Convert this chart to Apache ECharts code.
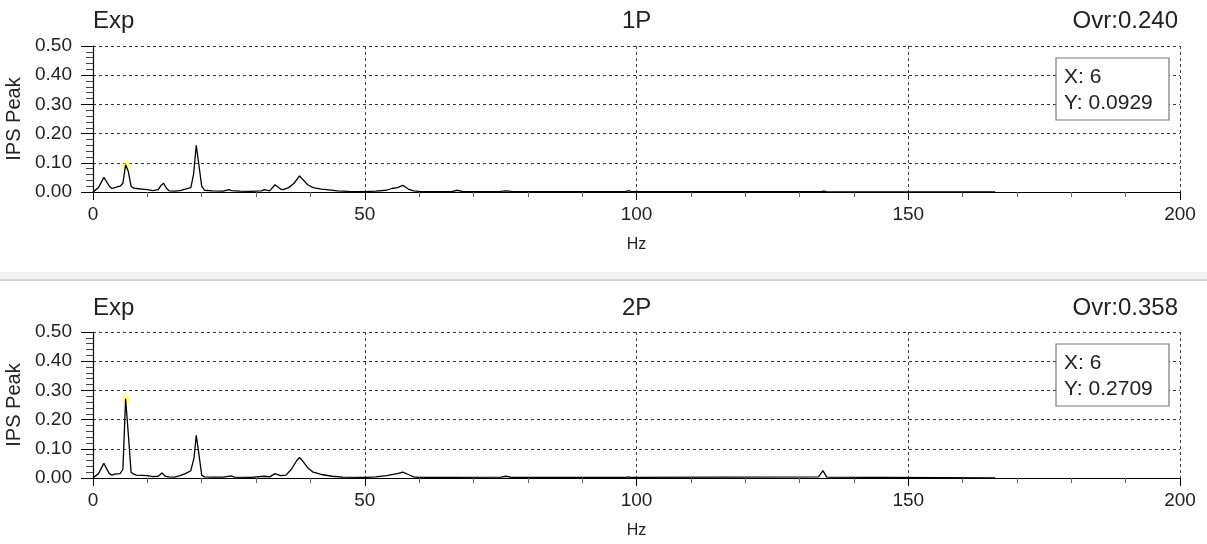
<!DOCTYPE html>
<html>
<head>
<meta charset="utf-8">
<script src="https://cdn.jsdelivr.net/npm/echarts@6/dist/echarts.min.js"></script>
<style>html,body{margin:0;padding:0;background:#fff}#c{width:1207px;height:544px}</style>
</head>
<body>
<div id="c"></div>
<script>
// ---- data ----
const panelNames = ['1P', '2P'];
const leftTitles = ['Exp', 'Exp'];
const overallTexts = ['Ovr:0.240', 'Ovr:0.358'];
const cursorX = [6, 6];
const cursorY = [0.0929, 0.2709];
const xTicks = [0, 50, 100, 150, 200];
const yTicks = [0, 0.1, 0.2, 0.3, 0.4, 0.5];

const freq1P = [0,1,2,2.5,3,3.5,4,4.5,5,5.5,6,6.5,7,7.5,8,9,10,11,12,12.5,13,13.5,14,15,16,17,18,18.5,19,19.5,20,20.5,22,24,25,25.5,27,29,31,31.5,32.5,33.5,34.5,35,36,37,38,38.5,39.5,40.5,42,43,45,47,50,52,54,55,56,57,58,59,60,66,67,68,75,76,77,98,98.5,99,134,134.5,135,166];
const amp1P  = [0,0.015,0.05,0.035,0.02,0.012,0.015,0.018,0.02,0.03,0.093,0.07,0.02,0.013,0.012,0.01,0.008,0.005,0.008,0.022,0.03,0.013,0.004,0.003,0.005,0.01,0.015,0.06,0.16,0.09,0.02,0.006,0.004,0.003,0.008,0.005,0.003,0.002,0.004,0.008,0.004,0.025,0.01,0.008,0.015,0.03,0.055,0.045,0.025,0.015,0.01,0.008,0.004,0.002,0.001,0.003,0.006,0.012,0.015,0.023,0.01,0.004,0.002,0.001,0.006,0.001,0.002,0.004,0.002,0.001,0.005,0.001,0.001,0.003,0.001,0];

const freq2P = [0,1,2,2.5,3,3.5,4,5,5.5,6,6.5,7,7.5,8,10,11,12,12.7,13.3,14,15,16,17,18,18.6,19,19.5,20,20.5,22,24,25.4,26,29,31.5,32.5,33.5,34.5,35.5,36.5,37.5,38,38.5,39.5,40.5,42,44,46,50,52,54,56,57,58,59,60,66,75,76,77,98,98.5,99,133.5,134.3,135,166];
const amp2P  = [0,0.015,0.05,0.032,0.015,0.01,0.013,0.015,0.03,0.271,0.15,0.02,0.013,0.01,0.008,0.005,0.006,0.017,0.006,0.004,0.003,0.008,0.015,0.025,0.07,0.146,0.08,0.01,0.004,0.003,0.003,0.007,0.003,0.002,0.006,0.004,0.015,0.008,0.01,0.03,0.06,0.07,0.06,0.035,0.02,0.012,0.006,0.003,0.002,0.004,0.008,0.015,0.02,0.012,0.004,0.002,0.002,0.003,0.006,0.002,0.002,0.004,0.002,0.004,0.025,0.003,0];

const freqs = [freq1P, freq2P];
const amps = [amp1P, amp2P];

// ---- layout ----
const gridTops = [46, 332];
const gridH = 146;
const gridLeft = 93, gridRight = 27;
const FONT = '"Liberation Sans", Arial, sans-serif';

const chart = echarts.init(document.getElementById('c'));

const grids = [], xAxes = [], yAxes = [], series = [], titles = [], graphics = [];

for (let i = 0; i < 2; i++) {
  const top = gridTops[i];
  grids.push({left: gridLeft, right: gridRight, top: top, height: gridH, containLabel: false, outerBoundsMode: 'none'});
  xAxes.push({
    type: 'value', gridIndex: i, min: xTicks[0], max: xTicks[xTicks.length-1], interval: 50,
    name: 'Hz', nameLocation: 'middle', nameGap: 45,
    nameTextStyle: {fontFamily: FONT, fontSize: 16, color: '#222'},
    axisLine: {show: true, onZero: false, lineStyle: {color: '#000', width: 1.2}},
    axisTick: {show: true, length: 8, lineStyle: {color: '#000'}},
    minorTick: {show: true, splitNumber: 5, length: 5, lineStyle: {color: '#666'}},
    axisLabel: {fontFamily: FONT, fontSize: 19, color: '#222', margin: 13},
    splitLine: {show: true, lineStyle: {color: '#444', type: [3, 3], width: 1}},
    minorSplitLine: {show: false}
  });
  yAxes.push({
    type: 'value', gridIndex: i, min: yTicks[0], max: yTicks[yTicks.length-1], interval: 0.1,
    name: 'IPS Peak', nameLocation: 'middle', nameGap: 66, nameRotate: 90,
    nameTextStyle: {fontFamily: FONT, fontSize: 20, color: '#222'},
    axisLine: {show: true, lineStyle: {color: '#000', width: 1.2}},
    axisTick: {show: true, length: 12, lineStyle: {color: '#000'}},
    minorTick: {show: true, splitNumber: 5, length: 7, lineStyle: {color: '#444'}},
    axisLabel: {fontFamily: FONT, fontSize: 19, color: '#222', margin: 21,
      formatter: v => v.toFixed(2)},
    splitLine: {show: true, lineStyle: {color: '#333', type: [3, 3], width: 1}}
  });
  const data = freqs[i].map((f, k) => [f, amps[i][k]]);
  series.push({
    type: 'line', xAxisIndex: i, yAxisIndex: i, data: data,
    showSymbol: false, symbol: 'none', silent: true,
    lineStyle: {color: '#000', width: 1.3}, animation: false
  });
  series.push({
    type: 'scatter', xAxisIndex: i, yAxisIndex: i, data: [[cursorX[i], cursorY[i]]],
    symbolSize: 10, itemStyle: {color: 'rgba(250,245,80,0.6)'}, silent: true, animation: false
  });
  const tTop = top - 37 + i * 1.5;
  titles.push({text: leftTitles[i], left: 93, top: tTop, padding: 0,
    textStyle: {fontFamily: FONT, fontSize: 24, fontWeight: 'normal', color: '#222'}});
  titles.push({text: panelNames[i], left: 622, top: tTop, padding: 0,
    textStyle: {fontFamily: FONT, fontSize: 24, fontWeight: 'normal', color: '#222'}});
  titles.push({text: overallTexts[i], right: 29, top: tTop, padding: 0,
    textStyle: {fontFamily: FONT, fontSize: 24, fontWeight: 'normal', color: '#222'}});
  // cursor readout box
  const by = top + 12;
  graphics.push({type: 'rect', shape: {x: 1056, y: by, width: 113, height: 62},
    style: {fill: '#fff', stroke: '#777', lineWidth: 1.2}, z: 100});
  graphics.push({type: 'text', x: 1064, y: by + 19, z: 101,
    style: {text: 'X: ' + cursorX[i], font: '21px ' + FONT, fill: '#222', verticalAlign: 'middle', textVerticalAlign: 'middle'}});
  graphics.push({type: 'text', x: 1064, y: by + 45, z: 101,
    style: {text: 'Y: ' + cursorY[i].toFixed(4), font: '21px ' + FONT, fill: '#222', verticalAlign: 'middle', textVerticalAlign: 'middle'}});
}
// separator between panels
graphics.push({type: 'rect', shape: {x: 0, y: 272, width: 1207, height: 8}, style: {fill: '#f2f2f2'}, silent: true});
graphics.push({type: 'line', shape: {x1: 0, y1: 280, x2: 1207, y2: 280}, style: {stroke: '#c8c8c8', lineWidth: 1.5}, silent: true});

chart.setOption({
  backgroundColor: '#fff',
  animation: false,
  title: titles,
  grid: grids,
  xAxis: xAxes,
  yAxis: yAxes,
  series: series,
  graphic: graphics
});
</script>
</body>
</html>
